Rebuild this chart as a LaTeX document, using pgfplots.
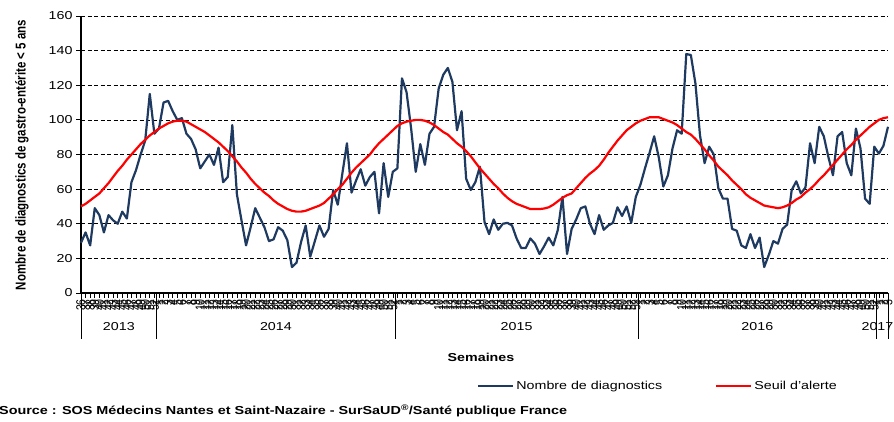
\documentclass[border=0pt]{standalone}
\usepackage{pgfplots}
\pgfplotsset{compat=1.18}
\usepackage{pgfplotstable}
\usepackage{fontspec}
\setmainfont{Liberation Sans}[FakeStretch=1.24]
\newfontfamily\rotfont{Liberation Sans}
\definecolor{navy}{HTML}{1F3A60}
\definecolor{alertred}{HTML}{FF0000}

% semaine, nombre de diagnostics, seuil d'alerte
\pgfplotstableread{
i n s
0 29 50
1 35 51.5
2 27.5 53.5
3 49 55.5
4 45 57.5
5 35 60.5
6 45 63.5
7 42 67
8 40 70.5
9 47 73.5
10 43 77
11 64 80
12 71 83
13 80 86
14 88 88.5
15 115 91
16 92 93
17 95 95
18 110 96.5
19 111 98
20 105 99
21 100 99.5
22 101 99.5
23 92 99
24 89 97.5
25 83 96
26 72 94.5
27 76 93
28 80 91
29 74 89
30 84 87
31 64 84.5
32 67 82
33 97 79
34 57 76
35 42 72.5
36 27.5 69.5
37 38 66
38 49 63
39 43.5 60.5
40 38 58
41 30 56
42 31 53.5
43 38 51.5
44 36 50
45 30.5 48.5
46 15 47.5
47 17.5 47
48 29.5 47
49 39 47.5
50 21 48.5
51 30 49.5
52 39 50.5
53 32.5 52
54 37 54.5
55 59.5 57
56 51 60
57 69 62.5
58 86.5 66
59 58 69.5
60 65 72.5
61 71.5 75
62 62 77.5
63 67 80
64 70 83.5
65 46 86.5
66 75 89
67 55.5 91.5
68 70 94
69 72 96.5
70 124 98
71 116 99
72 95 99.5
73 70 100
74 86 100
75 74 99.5
76 92 98.5
77 96 97
78 118 95
79 126 93
80 130 91.5
81 122 89
82 94 86.5
83 105 84.5
84 66 82
85 59.5 79
86 64 75.5
87 73 72
88 41 69
89 34 66
90 42.5 63
91 36.5 60.5
92 40 57.5
93 40.5 55
94 39 53
95 31.5 51.5
96 26 50.5
97 26 49.5
98 31.5 48.5
99 28.5 48.5
100 22.5 48.5
101 27 48.8
102 32 49.5
103 27.5 51
104 36.5 53
105 55.5 55
106 22.5 56.5
107 37 57.5
108 42.5 60.5
109 49 63.5
110 50 66.5
111 40 69
112 34 71
113 45 73.5
114 36.5 77
115 39 81
116 40.5 84.5
117 49.5 88
118 44.5 91
119 50 94
120 40.5 96
121 55.5 98
122 62.5 99.5
123 72 100.5
124 81 101.5
125 90.5 101.5
126 78.5 101.5
127 61.5 100.5
128 68 99.5
129 83.5 98.5
130 94 97
131 92 95
132 138 93
133 137.5 91.5
134 121 89
135 91 86
136 75 83
137 84.5 79.5
138 80 76.5
139 60.5 73
140 54.5 70.5
141 54.5 68
142 37 65
143 36 62.5
144 27.5 60
145 26 57
146 34 55
147 26 53.5
148 32 52
149 15 50.5
150 22 50
151 30 49.5
152 28.5 49
153 37 49.5
154 39.5 50.5
155 59.5 52
156 64.5 54
157 57.5 55.5
158 61 58
159 86.5 60
160 75 62.5
161 96 65.5
162 90.5 68
163 78.5 71
164 68 74
165 90.5 77
166 93 80
167 75 83
168 68 85.5
169 95 88.5
170 83.5 91
171 54.5 93.5
172 51.5 96
173 84.5 98
174 80.5 100
175 85 101
176 96 101.5
}\weeks

\begin{document}
\begin{tikzpicture}[font=\fontsize{11.5}{13}\selectfont]
\path[use as bounding box] (0pt,0pt) rectangle (894pt,-422pt);
\begin{axis}[
  at={(81pt,-293pt)}, anchor=south west,
  scale only axis,
  width=807pt, height=277pt,
  xmin=0, xmax=176,
  ymin=0, ymax=160,
  clip=false,
  axis lines=left,
  axis line style={line width=1.6pt, -},
  ytick={0,20,...,160},
  ymajorgrids,
  grid style={black, line width=0.7pt, dash pattern=on 4pt off 2.5pt},
  tick align=outside,
  tick style={black, line width=0.8pt},
  major tick length=5pt,
  /pgf/number format/assume math mode=true,
  yticklabel style={font=\fontsize{11.5}{13}\selectfont},
  xtick={0,...,176},
  xticklabels={36,37,38,39,40,41,42,43,44,45,46,47,48,49,50,51,52,
    1,2,3,4,5,6,7,8,9,10,11,12,13,14,15,16,17,18,19,20,21,22,23,24,25,26,
    27,28,29,30,31,32,33,34,35,36,37,38,39,40,41,42,43,44,45,46,47,48,49,50,51,52,
    1,2,3,4,5,6,7,8,9,10,11,12,13,14,15,16,17,18,19,20,21,22,23,24,25,26,
    27,28,29,30,31,32,33,34,35,36,37,38,39,40,41,42,43,44,45,46,47,48,49,50,51,52,53,
    1,2,3,4,5,6,7,8,9,10,11,12,13,14,15,16,17,18,19,20,21,22,23,24,25,26,
    27,28,29,30,31,32,33,34,35,36,37,38,39,40,41,42,43,44,45,46,47,48,49,50,51,52,
    1,2,3},
  x tick style={line width=0.6pt},
  xticklabel style={rotate=90, anchor=east, yscale=1.24, inner sep=1pt,
    font=\rotfont\fontsize{10.5}{10.5}\selectfont},
  legend columns=2,
  legend style={draw=none, fill=none, at={(0.4907,-0.3357)}, anchor=west,
    font=\fontsize{11.5}{13}\selectfont, inner sep=0pt,
    /tikz/every even column/.append style={column sep=51pt}},
  legend image code/.code={\draw[#1] (0pt,0pt) -- (35pt,0pt);},
]
\addplot[navy, line width=2.2pt, line join=round] table[x=i, y=n] {\weeks};
\addlegendentry{Nombre de diagnostics}
\addplot[alertred, line width=2.2pt, line join=round] table[x=i, y=s] {\weeks};
\addlegendentry{Seuil d'alerte}

% separateurs des annees
\draw[black, line width=0.8pt] (axis cs:0,0) -- ++(0pt,-46pt);
\draw[black, line width=0.8pt] (axis cs:16.5,0) -- ++(0pt,-46pt);
\draw[black, line width=0.8pt] (axis cs:68.5,0) -- ++(0pt,-46pt);
\draw[black, line width=0.8pt] (axis cs:121.5,0) -- ++(0pt,-46pt);
\draw[black, line width=0.8pt] (axis cs:173.5,0) -- ++(0pt,-46pt);
\draw[black, line width=0.8pt] (axis cs:176,0) -- ++(0pt,-46pt);
\node at ([yshift=-34pt]axis cs:8.25,0) {2013};
\node at ([yshift=-34pt]axis cs:42.5,0) {2014};
\node at ([yshift=-34pt]axis cs:95,0) {2015};
\node at ([yshift=-34pt]axis cs:147.5,0) {2016};
\end{axis}

\node[anchor=east, inner sep=0.5pt] at (894pt,-327pt) {2017};
\node[font=\bfseries\fontsize{11.5}{13}\selectfont] at (481pt,-357pt) {Semaines};
\node[rotate=90, yscale=1.24, font=\rotfont\bfseries\fontsize{11.5}{13}\selectfont]
  at (22pt,-155pt) {Nombre de diagnostics de gastro-entérite < 5 ans};
\node[anchor=west, inner sep=0pt, font=\bfseries\fontsize{11.6}{13}\selectfont]
  at (-1pt,-411pt) {Source : SOS Médecins Nantes et Saint-Nazaire - SurSaUD\textsuperscript{®}/Santé publique France};
\end{tikzpicture}
\end{document}
